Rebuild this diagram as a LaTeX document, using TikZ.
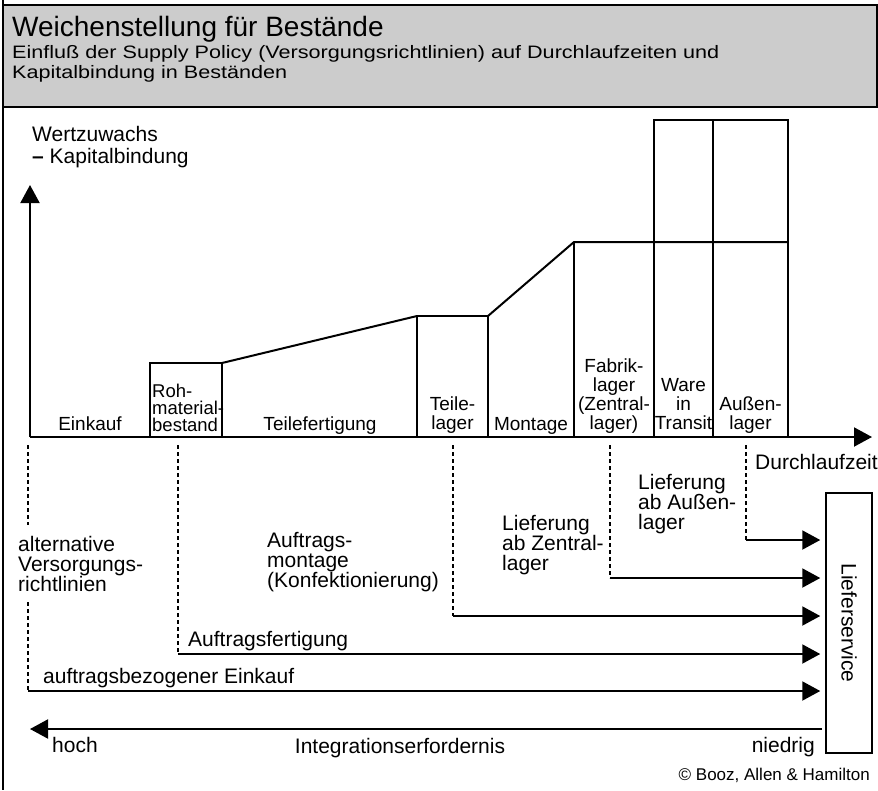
\documentclass[tikz,border=0pt]{standalone}
\usepackage{fontspec}
\setmainfont{Liberation Sans}
\usetikzlibrary{arrows.meta}
\lineskiplimit=-100pt
\begin{document}
\begin{tikzpicture}[x=1pt,y=-1pt,
  big/.style={font=\fontsize{21}{20}\selectfont, inner sep=0pt, align=left},
  boxlbl/.style={font=\fontsize{19}{19}\selectfont, inner sep=0pt, align=center},
  ln/.style={line width=2pt, line join=miter},
  arr/.style={line width=2pt, -{Triangle[length=18pt,width=19pt]}},
  dsh/.style={line width=2pt, dash pattern=on 4pt off 3pt}
]
\useasboundingbox (0,0) rectangle (878,790);
% frame and header
\draw[line width=1.5pt] (3,0) -- (3,790);
\draw[line width=1.5pt, fill=black!20] (3,5) rectangle (877,107);
\node[anchor=base west, inner sep=0pt, font=\fontsize{28}{28}\selectfont] (title) at (12,36)
  {Weichenstellung für Bestände};
\node[anchor=base west, inner sep=0pt, align=left, font=\fontsize{18}{20}\selectfont] (sub) at (12,78)
  {\scalebox{1.2}[1]{Einfluß der Supply Policy (Versorgungsrichtlinien) auf Durchlaufzeiten und}\\
   \scalebox{1.2}[1]{Kapitalbindung in Beständen}};
% y label
\node[big, anchor=base west, font=\fontsize{21}{22}\selectfont] (ylab) at (32,163)
  {Wertzuwachs\\\textbf{–} Kapitalbindung};
% axes
\coordinate (O) at (30,437);
\coordinate (ytip) at (30,185);
\coordinate (xtip) at (872,437);
\draw[arr] (O) -- (ytip);
\draw[arr] (O) -- (xtip);
% profile
\draw[ln] (150,437) -- (150,363) -- (222,363) -- (222,437);
\draw[ln] (222,363) -- (417,316);
\draw[ln] (417,437) -- (417,316) -- (488,316) -- (488,437);
\draw[ln] (488,316) -- (574,242) -- (788,242);
\draw[ln] (574,242) -- (574,437);
\draw[ln] (654,437) -- (654,120) -- (788,120) -- (788,437);
\draw[ln] (713,120) -- (713,437);
% stage labels (anchor = baseline of last line)
\node[boxlbl, anchor=base] (einkauf) at (90,430) {Einkauf};
\node[boxlbl, anchor=base west, align=left, font=\fontsize{18.5}{17}\selectfont] (roh) at (152,431) {Roh-\\material-\\bestand};
\node[boxlbl, anchor=base] (teilef) at (320,430) {Teilefertigung};
\node[boxlbl, anchor=base] (teilel) at (452.5,429) {Teile-\\lager};
\node[boxlbl, anchor=base] (montage) at (531,430) {Montage};
\node[boxlbl, anchor=base] (fabrik) at (614,429) {Fabrik-\\lager\\(Zentral-\\lager)};
\node[boxlbl, anchor=base] (ware) at (683.5,429) {Ware\\in\\Transit};
\node[boxlbl, anchor=base] (aussen) at (750.5,429) {Außen-\\lager};
\node[big, anchor=base west] (dlz) at (755,469) {Durchlaufzeit};
% Lieferservice box
\node[draw, line width=1.5pt, rotate=-90, minimum width=260pt, minimum height=46pt, inner sep=0pt,
  font=\fontsize{21}{21}\selectfont] (ls) at (849,623) {Lieferservice};
% policy lines
\coordinate (s1) at (28,445);  \coordinate (c1) at (28,691);
\coordinate (s2) at (178,445); \coordinate (c2) at (178,654);
\coordinate (s3) at (453,445); \coordinate (c3) at (453,616);
\coordinate (s4) at (610,445); \coordinate (c4) at (610,578);
\coordinate (s5) at (746,445); \coordinate (c5) at (746,540);
\draw[dsh] (s1) -- (28,525);
\draw[dsh] (28,602) -- (c1);
\draw[dsh] (s2) -- (c2);
\draw[dsh] (s3) -- (c3);
\draw[dsh] (s4) -- (c4);
\draw[dsh] (s5) -- (c5);
\foreach \c in {c1,c2,c3,c4,c5}
  \draw[arr, shorten >=5pt] (\c) -- (ls.south |- \c);
% policy labels (anchor = baseline of last line)
\node[big, anchor=base west] (alt) at (18,591) {alternative\\Versorgungs-\\richtlinien};
\node[big, anchor=base west] (amont) at (267,587) {Auftrags-\\montage\\(Konfektionierung)};
\node[big, anchor=base west] (lz) at (502,570) {Lieferung\\ab Zentral-\\lager};
\node[big, anchor=base west] (la) at (638,529) {Lieferung\\ab Außen-\\lager};
\node[big, anchor=base west] (afert) at (188,646) {Auftragsfertigung};
\node[big, anchor=base west] (abe) at (43,683) {auftragsbezogener Einkauf};
% integration axis
\coordinate (iR) at (822,729);
\coordinate (iL) at (30,729);
\draw[arr] (iR) -- (iL);
\node[big, anchor=base west] (hoch) at (52,752) {hoch};
\node[big, anchor=base] (integ) at (400,753) {Integrationserfordernis};
\node[big, anchor=base east] (niedrig) at (815,752) {niedrig};
\node[anchor=base east, inner sep=0pt, font=\fontsize{17}{17}\selectfont] (copy) at (870,780) {© Booz, Allen \& Hamilton};
\end{tikzpicture}
\end{document}
